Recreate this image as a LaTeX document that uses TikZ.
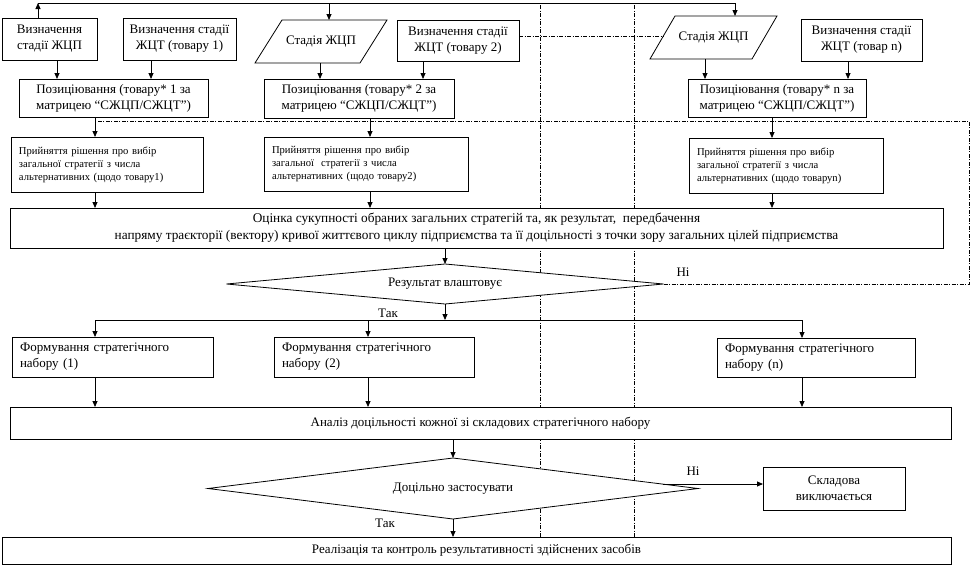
\documentclass[tikz,border=0pt]{standalone}
\usepackage{fontspec}
\setmainfont{Liberation Serif}
\usetikzlibrary{shapes.geometric,arrows.meta,calc}
\begin{document}
\begin{tikzpicture}[x=1pt,y=-1pt,
  every node/.style={inner sep=0pt, outer sep=0pt},
  lw/.style={line width=0.8pt},
  box/.style={draw, fill=white, lw, font=\fontsize{13}{16}\selectfont, align=center},
  lbox/.style={draw, fill=white, lw, font=\fontsize{13}{16}\selectfont, align=left, inner xsep=8pt, text width=#1},
  sbox/.style={draw, fill=white, lw, font=\fontsize{10.6}{13}\selectfont, align=left, inner xsep=8pt, text width=#1},
  ptext/.style={font=\fontsize{13}{16}\selectfont},
  dia/.style={draw, fill=white, lw, shape=diamond, inner sep=0pt, font=\fontsize{13}{16}\selectfont},
  lbl/.style={font=\fontsize{13}{16}\selectfont},
  arr/.style={lw, -{Triangle[length=6pt,width=5pt]}},
  dd/.style={line width=0.7pt, dash pattern=on 4pt off 1.5pt on 1pt off 1.5pt},
]
\useasboundingbox (0,0) rectangle (972,565);
\fill[white] (0,0) rectangle (972,565);

% vertical dash-dot separators
\draw[dd] (540,5) -- (540,537);
\draw[dd] (634,5) -- (634,537);

% x positions for connectors
\coordinate (t1) at (38,3);
\coordinate (t2) at (329,3);
\coordinate (t3) at (735,3);
\coordinate (xa) at (57,0);
\coordinate (xb1) at (151,0);
\coordinate (xp2) at (320,0);
\coordinate (xb2) at (423,0);
\coordinate (xpn) at (705,0);
\coordinate (xbn) at (848,0);
\coordinate (x1) at (95,0);
\coordinate (x2) at (370,0);
\coordinate (x2b) at (368,0);
\coordinate (xn) at (772,0);
\coordinate (xn2) at (802,0);

% top row
\node[box, minimum width=95, minimum height=42] (A) at (49.5,39) {Визначення\\стадії ЖЦП};
\node[box, minimum width=113, minimum height=42] (B1) at (179.5,39) {Визначення стадії\\ЖЦТ (товару 1)};
\node[ptext, minimum width=132, minimum height=43] (p2) at (321,41.5) {Стадія ЖЦП};
\draw[lw] (p2.south west) -- ($(p2.north west)+(27,0)$) -- (p2.north east) -- ($(p2.south east)+(-27,0)$) -- cycle;
\node[box, minimum width=122, minimum height=41] (B2) at (458,40.5) {Визначення стадії\\ЖЦТ (товару 2)};
\node[ptext, minimum width=127, minimum height=43] (pn) at (713.5,37.5) {Стадія ЖЦП};
\draw[lw] (pn.south west) -- ($(pn.north west)+(25,0)$) -- (pn.north east) -- ($(pn.south east)+(-25,0)$) -- cycle;
\node[box, minimum width=121, minimum height=42] (Bn) at (861.5,40) {Визначення стадії\\ЖЦТ (товар n)};

% positioning
\node[box, minimum width=189, minimum height=38] (P1) at (113.5,98) {Позиціювання (товару* 1 за\\матрицею “СЖЦП/СЖЦТ”)};
\node[box, minimum width=190, minimum height=39] (P2) at (359,98.5) {Позиціювання (товару* 2 за\\матрицею “СЖЦП/СЖЦТ”)};
\node[box, minimum width=178, minimum height=38] (Pn) at (777,98) {Позиціювання (товару* n за\\матрицею “СЖЦП/СЖЦТ”)};

% decisions
\node[sbox=176pt, minimum height=55] (D1) at (107,164.5) {Прийняття рішення про вибір\\загальної стратегії з числа\\альтернативних (щодо товару1)};
\node[sbox=188pt, minimum height=54] (D2) at (366,164) {Прийняття рішення про вибір\\загальної \ стратегії з числа\\альтернативних (щодо товару2)};
\node[sbox=178pt, minimum height=55] (Dn) at (786,165.5) {Прийняття рішення про вибір\\загальної стратегії з числа\\альтернативних (щодо товаруn)};

% evaluation
\node[box, font=\fontsize{13.3}{17}\selectfont, minimum width=933, minimum height=40] (O) at (476.5,228) {Оцінка сукупності обраних загальних стратегій та, як результат, \ передбачення\\напряму траєкторії (вектору) кривої життєвого циклу підприємства та її доцільності з точки зору загальних цілей підприємства};

\node[dia, aspect=10.9, minimum width=437, minimum height=40] (R) at (445,284) {Результат влаштовує};

% formation
\node[lbox=185pt, minimum height=40] (F1) at (112.5,357) {Формування стратегічного\\набору (1)};
\node[lbox=184pt, minimum height=40] (F2) at (374,357) {Формування стратегічного\\набору (2)};
\node[lbox=182pt, minimum height=39] (Fn) at (816,357.5) {Формування стратегічного\\набору (n)};

\node[box, minimum width=941, minimum height=32] (A2) at (480.5,423) {Аналіз доцільності кожної зі складових стратегічного набору};

\node[dia, aspect=8, minimum width=490, minimum height=61] (Q) at (453,488.5) {Доцільно застосувати};
\node[box, minimum width=142, minimum height=43] (X) at (834,488.5) {Складова\\виключається};

\node[box, minimum width=949, minimum height=27] (Real) at (476.5,550.5) {Реалізація та контроль результативності здійснених засобів};

% labels
\node[lbl] (ni1) at (683,272) {Ні};
\node[lbl] (tak1) at (388,313) {Так};
\node[lbl] (ni2) at (693,471) {Ні};
\node[lbl] (tak2) at (385,523) {Так};

% top connectors
\draw[arr] (A.north -| t1) -- (t1);
\draw[lw] (t1) -- (t3);
\draw[arr] (t2) -- (t2 |- p2.north);
\draw[arr] (t3) -- (t3 |- pn.north);

\draw[arr] (A.south -| xa) -- (P1.north -| xa);
\draw[arr] (B1.south -| xb1) -- (P1.north -| xb1);
\draw[arr] (p2.south -| xp2) -- (P2.north -| xp2);
\draw[arr] (B2.south -| xb2) -- (P2.north -| xb2);
\draw[arr] (pn.south -| xpn) -- (Pn.north -| xpn);
\draw[arr] (Bn.south -| xbn) -- (Pn.north -| xbn);

\draw[arr] (P1.south -| x1) -- (D1.north -| x1);
\draw[arr] (P2.south -| x2) -- (D2.north -| x2);
\draw[arr] (Pn.south -| xn) -- (Dn.north -| xn);

\draw[arr] (D1.south -| x1) -- (O.north -| x1);
\draw[arr] (D2.south -| x2) -- (O.north -| x2);
\draw[arr] (Dn.south -| xn) -- (O.north -| xn);

% dashed links
\coordinate (pnSW) at (pn.south west);
\coordinate (pnNW) at ($(pn.north west)+(25,0)$);
\coordinate (pnl) at ($(pnSW)!0.535!(pnNW)$);
\draw[dd] (B2.east |- pnl) -- (pnl);
\coordinate (fbr) at (969,121);
\coordinate (fbl) at (95,121);
\draw[dd] (R.east) -| (fbr) -- (fbl);

% evaluation to decision
\draw[arr] (O.south -| R.north) -- (R.north);
\coordinate (sp) at (445,320);
\coordinate (sp1) at (95,320);
\coordinate (sp3) at (802,320);
\draw[arr] (R.south) -- (sp);
\draw[lw] (sp1) -- (sp3);
\draw[arr] (sp1) -- (F1.north -| sp1);
\draw[arr] (sp1 -| x2b) -- (F2.north -| x2b);
\draw[arr] (sp3) -- (Fn.north -| sp3);

\draw[arr] (F1.south -| x1) -- (A2.north -| x1);
\draw[arr] (F2.south -| x2b) -- (A2.north -| x2b);
\draw[arr] (Fn.south -| xn2) -- (A2.north -| xn2);

\draw[arr] (A2.south -| Q.north) -- (Q.north);
\coordinate (qx) at (663,484);
\draw[arr] (qx) -- (X.west |- qx);
\draw[arr] (Q.south) -- (Real.north -| Q.south);
\end{tikzpicture}
\end{document}
